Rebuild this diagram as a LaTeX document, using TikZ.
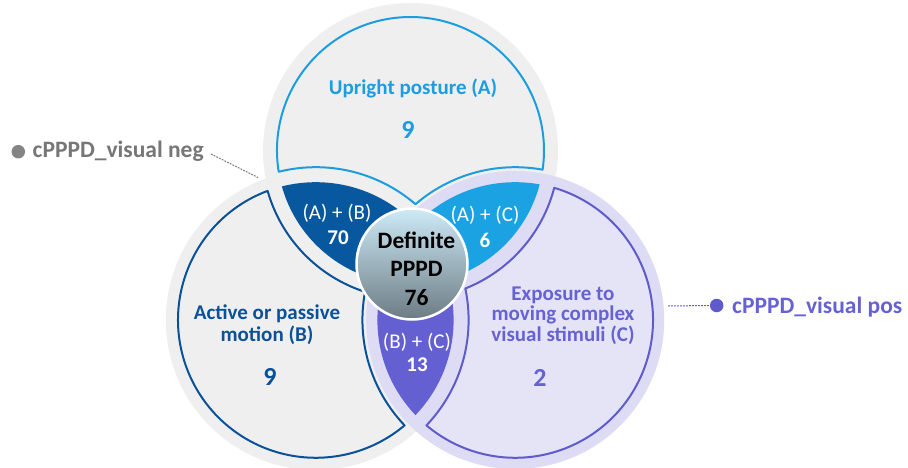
\documentclass[tikz,border=0pt]{standalone}
\usepackage{fontspec}
\setmainfont{Carlito}
\definecolor{colA}{HTML}{1C9DE0}
\definecolor{colB}{HTML}{0B5198}
\definecolor{colC}{HTML}{5F5BCC}
\definecolor{txtC}{HTML}{6662D4}
\definecolor{lensAB}{HTML}{07589F}
\definecolor{lensAC}{HTML}{1AA2E2}
\definecolor{lensBC}{HTML}{6560D1}
\definecolor{bgGray}{HTML}{EFEFEF}
\definecolor{bgC}{HTML}{DDDCF4}
\definecolor{inC}{HTML}{E5E4F7}
\definecolor{labGray}{HTML}{767676}
\definecolor{coreTop}{HTML}{CDEBF7}
\definecolor{coreMid}{HTML}{A7C3CB}
\definecolor{coreBot}{HTML}{6C7B83}
\begin{document}
\begin{tikzpicture}[x=1pt,y=-1pt,
  outl/.style={line width=2pt, line join=round},
  lbl/.style={inner sep=0pt, align=center, font=\fontsize{21}{22.5}\selectfont\bfseries},
  numbig/.style={inner sep=0pt, font=\fontsize{26}{26}\selectfont\bfseries},
  pair/.style={inner sep=0pt, text=white, font=\fontsize{21}{21}\selectfont},
  pairnum/.style={inner sep=0pt, text=white, font=\fontsize{21}{21}\selectfont\bfseries},
  sidelbl/.style={inner sep=0pt, anchor=base west, font=\fontsize{23.5}{23.5}\selectfont\bfseries},
  dotmark/.style={circle, inner sep=0pt, minimum size=13.5pt},
  leader/.style={line width=1pt, dash pattern=on 1.8pt off 1.2pt}]
\useasboundingbox (0,0) rectangle (908,468);
% centres
\coordinate (A) at (410.5,150.5);
\coordinate (B) at (315.8,320);
\coordinate (C) at (515.2,320);
% backgrounds
\fill[bgGray] (B) circle[radius=150];
\fill[bgGray] (A) circle[radius=147.5];
\fill[bgC] (C) circle[radius=149];
% exclusive regions
\coordinate (P1) at (278.705,171.771);
\coordinate (Q1) at (267.603,190.904);
\coordinate (R1) at (554.228,187.841);
\path[outl, draw=colA, fill=bgGray] (P1)
  arc[start angle=170.83, end angle=368.26, radius=133.5]
  arc[start angle=-79.66, end angle=-130.73, radius=152.8]
  arc[start angle=-49.27, end angle=-104.05, radius=152.8] -- cycle;
\path[outl, draw=colB, fill=bgGray] (Q1)
  arc[start angle=-110.48, end angle=-310.11, radius=137.8]
  arc[start angle=136.39, end angle=190.61, radius=152.8]
  arc[start angle=107.84, end angle=164.21, radius=148.5] -- cycle;
\path[outl, draw=colC, fill=inC] (R1)
  arc[start angle=-73.55, end angle=130.11, radius=137.8]
  arc[start angle=43.61, end angle=-11.89, radius=152.8]
  arc[start angle=68.33, end angle=14.56, radius=148.5] -- cycle;
% lenses
\begin{scope}
  \clip (A) circle[radius=133.5];
  \fill[lensAB] (B) circle[radius=137.8];
\end{scope}
\begin{scope}
  \clip (A) circle[radius=133.5];
  \fill[lensAC] (C) circle[radius=137.8];
\end{scope}
\begin{scope}
  \clip (B) circle[radius=137.8];
  \fill[lensBC] (C) circle[radius=137.8];
\end{scope}
% central circle
\node[circle, inner sep=0pt, minimum size=111pt, draw=white, line width=2.5pt,
  top color=coreTop, middle color=coreMid, bottom color=coreBot] (core) at (412,264) {};
\node[inner sep=0pt, align=center, font=\fontsize{23.5}{28.5}\selectfont\bfseries] (coretxt) at (416.5,268.5) {Definite\\PPPD\\76};
% region texts
\node[lbl, text=colA] (tA) at (413,88) {Upright posture (A)};
\node[numbig, text=colA] (nA) at (408,130) {9};
\node[lbl, text=colB] (tB) at (267,324.5) {Active or passive\\motion (B)};
\node[numbig, text=colB] (nB) at (270,377) {9};
\node[lbl, text=txtC, font=\fontsize{21}{20.5}\selectfont\bfseries] (tC) at (563,315.5) {Exposure to\\moving complex\\visual stimuli (C)};
\node[numbig, text=txtC] (nC) at (540,378) {2};
\node[pair] (tAB) at (337,213) {(A) + (B)};
\node[pairnum] (vAB) at (338,238) {70};
\node[pair] (tAC) at (485,215) {(A) + (C)};
\node[pairnum] (vAC) at (485,240) {6};
\node[pair] (tBC) at (417,342) {(B) + (C)};
\node[pairnum] (vBC) at (417,365) {13};
% side labels
\node[dotmark, fill=labGray!90] (negdot) at (18.3,151.7) {};
\node[sidelbl, text=labGray] (neg) at (32.5,157.7) {cPPPD\_visual neg};
\coordinate (negA) at (211,154);
\coordinate (negB) at (258,177.5);
\draw[leader, labGray] (negA) -- (negB);
\node[dotmark, fill=colC] (posdot) at (716.7,305.5) {};
\node[sidelbl, text=txtC] (pos) at (732,313.3) {cPPPD\_visual pos};
\coordinate (posA) at (668,306);
\draw[leader, colC] (posA) -- (posdot.west);
\end{tikzpicture}
\end{document}
